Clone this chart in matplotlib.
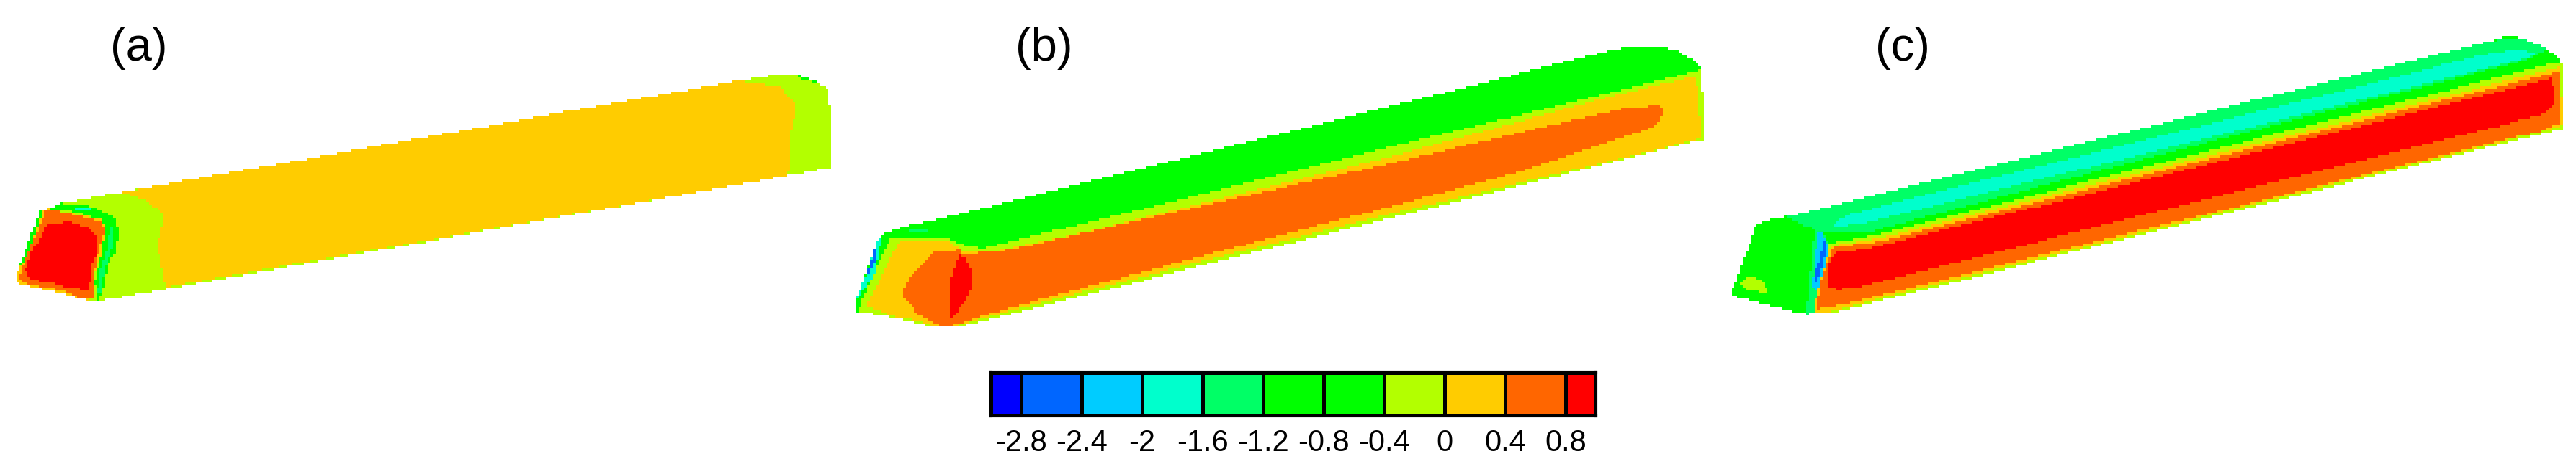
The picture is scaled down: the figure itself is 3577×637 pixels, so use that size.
import numpy as np
import matplotlib
matplotlib.use("Agg")
import matplotlib.pyplot as plt
from matplotlib.colors import ListedColormap
from matplotlib.path import Path

plt.rcParams['font.family'] = ['Liberation Sans', 'DejaVu Sans']

# contour legend
colors = ['#0000ff', '#0066ff', '#00ccff', '#00ffcc', '#00ff66', '#00ff00',
          '#00ff00', '#b3ff00', '#ffcc00', '#ff6600', '#ff0000']
bounds = [-3.0, -2.8, -2.4, -2.0, -1.6, -1.2, -0.8, -0.4, 0.0, 0.4, 0.8, 1.0]
tick_values = [-2.8, -2.4, -2.0, -1.6, -1.2, -0.8, -0.4, 0.0, 0.4, 0.8]
tick_labels = ['-2.8', '-2.4', '-2', '-1.6', '-1.2', '-0.8', '-0.4', '0', '0.4', '0.8']
panel_labels = ['(a)', '(b)', '(c)']

# level names (index into colors)
BLUE, CYAN, AQUA, SPRING, GREEN, LIME, YELLOW, ORANGE, RED = 1, 2, 3, 4, 5, 7, 8, 9, 10

a_outline = [(27, 1165), (75, 880), (110, 847), (220, 800), (1365, 328), (1395, 315), (1450, 315),
             (1505, 370), (1507, 698), (190, 1250), (160, 1250)]
a_body = [(222, 800), (270, 840), (297, 900), (285, 1020), (300, 1195), (1430, 732), (1432, 580),
          (1445, 440), (1415, 360), (1365, 345), (1340, 335)]
a_corner = [(1445, 315), (1452, 315), (1485, 340), (1480, 346), (1450, 325)]
a_band = [(178, 100), (235, 78), (258, 65), (370, 78), (440, 105), (475, 130), (497, 175), (480, 270),
          (450, 320), (430, 430), (415, 470), (405, 470), (395, 390), (420, 280), (440, 180), (420, 135),
          (300, 100), (200, 90)]
a_band_light = [(405, 440), (420, 340), (445, 260), (460, 160), (475, 160), (470, 240), (440, 340),
                (425, 400), (420, 440)]
a_band_aqua = [(290, 78), (380, 88), (380, 98), (295, 88)]
a_front_y = [(62, 385), (75, 350), (165, 100), (200, 88), (300, 110), (420, 135), (440, 170), (420, 290),
             (395, 350), (395, 460), (360, 470), (270, 445), (120, 410), (75, 400)]
a_front_o = [(80, 385), (110, 290), (190, 100), (255, 100), (350, 125), (420, 145), (438, 180), (410, 270),
             (395, 350), (393, 458), (325, 458), (265, 430), (130, 405)]
a_front_r = [(107, 350), (130, 270), (165, 215), (200, 150), (290, 145), (370, 170), (405, 205), (405, 270),
             (385, 320), (370, 425), (290, 420), (210, 395), (130, 385)]
a_left = [(85, 320), (165, 100), (178, 100), (120, 270), (95, 320)]

b_outline = [(12, 1295), (12, 1250), (50, 990), (65, 970), (95, 945), (155, 915), (1390, 205), (1420, 190),
             (1460, 190), (1500, 210), (1540, 265), (1545, 300), (1550, 585), (1530, 590), (195, 1362),
             (150, 1362), (125, 1345), (75, 1320)]
b_lime = [(15, 1295), (50, 1100), (75, 985), (180, 995), (200, 1015), (240, 1035), (1545, 290), (1550, 585),
          (1530, 590), (195, 1362), (150, 1362), (125, 1345), (75, 1320)]
b_yellow = [(30, 1270), (60, 1130), (90, 1005), (180, 1005), (205, 1050), (265, 1045), (440, 960),
            (1000, 640), (1350, 420), (1535, 315), (1545, 575), (1470, 620), (1000, 880), (600, 1110),
            (230, 1330), (195, 1355), (150, 1355), (125, 1335), (75, 1315)]
b_orange = [(205, 1060), (290, 1040), (700, 825), (1000, 670), (1300, 505), (1410, 450), (1470, 440),
            (1475, 480), (1455, 530), (1380, 590), (1200, 725), (1000, 848), (700, 1028), (400, 1212),
            (240, 1315), (195, 1350), (165, 1360), (125, 1310), (100, 1250), (95, 1220), (110, 1150),
            (125, 1110), (155, 1050), (200, 1040)]
b_red = [(460, 220), (480, 232), (505, 280), (505, 360), (480, 415), (425, 480), (413, 500), (413, 355),
         (425, 300), (440, 265), (447, 232)]
b_edge_c = [(24, 410), (60, 325), (115, 155), (130, 150), (100, 300), (50, 380)]
b_edge_b = [(70, 310), (85, 250), (105, 180), (112, 200), (100, 250), (85, 290)]
b_patch = [(240, 118), (320, 118), (320, 128), (240, 128)]

c_outline = [(30, 1225), (75, 940), (100, 915), (155, 890), (1410, 170), (1430, 155), (1460, 155),
             (1510, 200), (1535, 250), (1540, 520), (1530, 540), (210, 1305), (160, 1305), (100, 1270),
             (45, 1240)]
c_spring = [(130, 905), (155, 890), (1410, 170), (1460, 155), (1510, 200), (1495, 225), (1465, 255),
            (1000, 530), (600, 770), (275, 970), (190, 970), (185, 960)]
c_aqua = [(210, 945), (240, 895), (300, 860), (1400, 225), (1440, 210), (1495, 215), (1470, 245),
          (280, 925), (260, 935)]
c_lime = [(205, 1015), (300, 975), (1510, 270), (1540, 265), (1540, 540), (1530, 540), (210, 1305),
          (180, 1305), (190, 1150)]
c_yellow = [(210, 1025), (300, 990), (1535, 280), (1538, 515), (1530, 530), (210, 1295), (180, 1300), (190, 1150)]
c_orange = [(215, 1030), (300, 1005), (1535, 295), (1535, 510), (1500, 545), (210, 1280), (185, 1285), (195, 1150)]
c_red = [(225, 1050), (280, 1035), (1520, 325), (1525, 430), (1510, 470), (1480, 490), (260, 1195),
         (225, 1205), (205, 1190), (205, 1120), (215, 1060)]
c_strip_s = [(385, 468), (385, 440), (415, 120), (440, 115), (480, 180), (430, 360), (410, 460)]
c_strip_c = [(405, 360), (430, 130), (450, 130), (475, 190), (460, 270), (430, 365)]
c_strip_b = [(417, 335), (420, 285), (440, 240), (452, 165), (465, 165), (465, 210), (440, 290), (430, 320)]
c_patch = [(108, 340), (120, 322), (145, 310), (200, 322), (225, 378), (190, 378), (185, 365), (130, 365)]


def crop(pts, x0, y0, sx, sy=3.0):
    # crop pixels back to full image pixels
    pts = np.array(pts, dtype=float)
    return np.column_stack([x0 + pts[:, 0] / sx, y0 + pts[:, 1] / sy])


WIDE = 1.3067
regions = [
    (LIME, crop(a_outline, 0, 0, WIDE)),
    (YELLOW, crop(a_body, 0, 0, WIDE)),
    (GREEN, crop(a_corner, 0, 0, WIDE)),
    (GREEN, crop(a_band, 0, 260, 3)),
    (SPRING, crop(a_band_light, 0, 260, 3)),
    (AQUA, crop(a_band_aqua, 0, 260, 3)),
    (YELLOW, crop(a_front_y, 0, 260, 3)),
    (ORANGE, crop(a_front_o, 0, 260, 3)),
    (RED, crop(a_front_r, 0, 260, 3)),
    (GREEN, crop(a_left, 0, 260, 3)),

    (GREEN, crop(b_outline, 1180, 0, WIDE)),
    (LIME, crop(b_lime, 1180, 0, WIDE)),
    (YELLOW, crop(b_yellow, 1180, 0, WIDE)),
    (ORANGE, crop(b_orange, 1180, 0, WIDE)),
    (RED, crop(b_red, 1180, 280, 3)),
    (AQUA, crop(b_edge_c, 1180, 280, 3)),
    (BLUE, crop(b_edge_b, 1180, 280, 3)),
    (SPRING, crop(b_patch, 1180, 280, 3)),

    (GREEN, crop(c_outline, 2380, 0, WIDE)),
    (SPRING, crop(c_spring, 2380, 0, WIDE)),
    (AQUA, crop(c_aqua, 2380, 0, WIDE)),
    (LIME, crop(c_lime, 2380, 0, WIDE)),
    (YELLOW, crop(c_yellow, 2380, 0, WIDE)),
    (ORANGE, crop(c_orange, 2380, 0, WIDE)),
    (RED, crop(c_red, 2380, 0, WIDE)),
    (SPRING, crop(c_strip_s, 2380, 280, 3)),
    (CYAN, crop(c_strip_c, 2380, 280, 3)),
    (BLUE, crop(c_strip_b, 2380, 280, 3)),
    (LIME, crop(c_patch, 2380, 280, 3)),
]

W, H = 3577, 637
CELL = 3.83  # the source was a small bitmap, keep its blocky edges

nx, ny = int(W / CELL), int(H / CELL)
xs = (np.arange(nx) + 0.5) * W / nx
ys = (np.arange(ny) + 0.5) * H / ny
gx, gy = np.meshgrid(xs, ys)
points = np.column_stack([gx.ravel(), gy.ravel()])

field = np.full(gx.shape, np.nan)
for level, outline in regions:
    inside = Path(outline).contains_points(points).reshape(gx.shape)
    field[inside] = level

fig = plt.figure(figsize=(W / 100, H / 100), dpi=100)
ax = fig.add_axes([0, 0, 1, 1])
ax.imshow(field, cmap=ListedColormap(colors), vmin=-0.5, vmax=10.5, extent=(0, W, H, 0),
          interpolation='nearest', aspect='auto')
ax.set_xlim(0, W)
ax.set_ylim(H, 0)
ax.axis("off")

for label, x in zip(panel_labels, [193, 1450, 2642]):
    ax.text(x, 67, label, fontsize=47, ha='center', va='center', color='black')

# colour legend
cax = fig.add_axes([1376 / W, 1 - 577 / H, 840 / W, 60 / H])
cax.pcolormesh(bounds, [0, 1], np.arange(len(colors)).reshape(1, -1), cmap=ListedColormap(colors),
               vmin=-0.5, vmax=10.5, edgecolors='black', linewidth=2.2)
cax.set_xlim(bounds[0], bounds[-1])
cax.set_ylim(0, 1)
cax.set_yticks([])
cax.set_xticks(tick_values)
cax.set_xticklabels(tick_labels, fontsize=30)
cax.tick_params(axis='x', length=0, pad=13)
for spine in cax.spines.values():
    spine.set_linewidth(3.0)

fig.savefig("out.png", dpi=100)
